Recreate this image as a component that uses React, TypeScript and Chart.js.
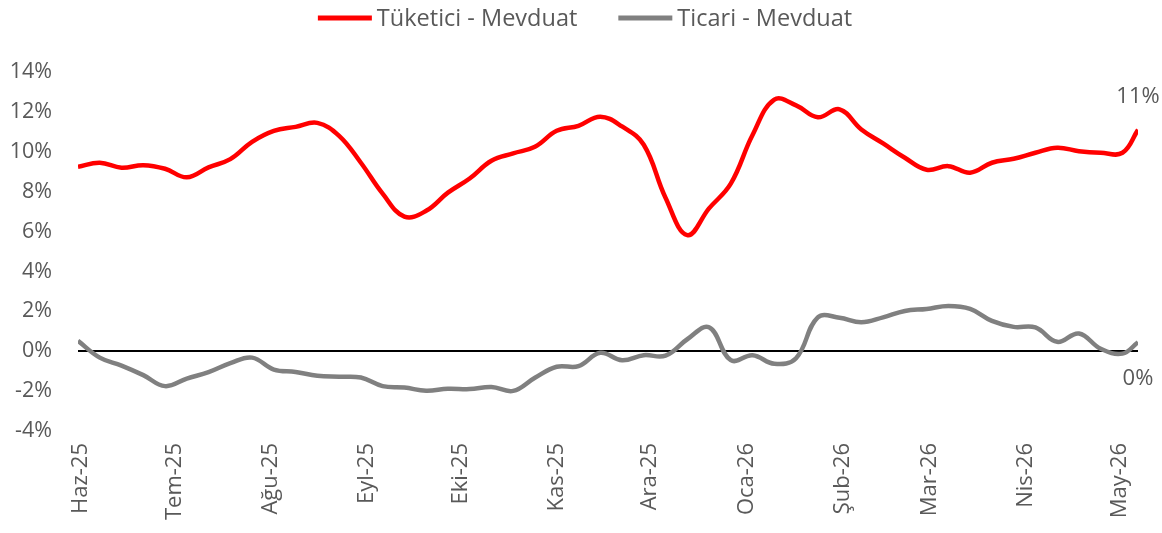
import React, { useEffect, useRef } from "react";
import { Chart, registerables } from "chart.js";

Chart.register(...registerables);

// Start date of the series (day 0 on the x axis)
const startDate = "2025-05-31";

// Month ticks on the x axis
const monthTickDates = [
  "2025-06-01", "2025-07-01", "2025-08-01", "2025-09-01", "2025-10-01", "2025-11-01",
  "2025-12-01", "2026-01-01", "2026-02-01", "2026-03-01", "2026-04-01", "2026-05-01",
];
const monthTickLabels = [
  "Haz-25", "Tem-25", "Ağu-25", "Eyl-25", "Eki-25", "Kas-25",
  "Ara-25", "Oca-26", "Şub-26", "Mar-26", "Nis-26", "May-26",
];

// Observation days (days since startDate)
const pointDays = [
  0, 7, 14, 21, 28, 35, 42, 49, 56, 63, 70, 77, 84, 91, 98, 105, 112, 119, 126, 133,
  140, 147, 154, 161, 168, 175, 182, 189, 196, 203, 210, 217, 224, 231, 238, 245, 252,
  259, 266, 273, 280, 287, 294, 301, 308, 315, 322, 329, 336, 341,
];

const seriesNames = ["Tüketici - Mevduat", "Ticari - Mevduat"];

const tuketici = [
  9.25, 9.45, 9.2, 9.33, 9.15, 8.72, 9.22, 9.63, 10.5, 11.05, 11.25, 11.45, 10.8, 9.45,
  7.9, 6.75, 7.04, 7.95, 8.66, 9.55, 9.92, 10.25, 11.05, 11.3, 11.76, 11.27, 10.35, 7.7,
  5.82, 7.16, 8.4, 10.84, 12.62, 12.33, 11.73, 12.13, 11.12, 10.42, 9.7, 9.1, 9.28, 8.95,
  9.45, 9.65, 9.95, 10.2, 10.03, 9.95, 9.95, 11.1,
];

const ticari = [
  0.52, -0.32, -0.72, -1.2, -1.75, -1.37, -1.05, -0.6, -0.32, -0.92, -1.04, -1.23, -1.28,
  -1.32, -1.75, -1.82, -1.98, -1.88, -1.9, -1.79, -1.99, -1.33, -0.78, -0.75, -0.08, -0.45,
  -0.2, -0.22, 0.6, 1.2, -0.45, -0.2, -0.63, -0.35, 1.7, 1.68, 1.45, 1.7, 2.02, 2.12, 2.27,
  2.12, 1.52, 1.22, 1.19, 0.47, 0.89, 0.12, -0.12, 0.45,
];

const yTicks = [-4, -2, 0, 2, 4, 6, 8, 10, 12, 14];

const RED = "#FF0000";
const GREY = "#808080";
const TEXT = "#595959";
const FONT = "'Open Sans', 'Noto Sans', sans-serif";

const dayOf = (iso: string) =>
  Math.round((Date.parse(iso + "T00:00:00Z") - Date.parse(startDate + "T00:00:00Z")) / 86400000);
const tickDays = monthTickDates.map(dayOf);

const legendPlugin = {
  id: "customLegend",
  afterDraw(chart: any) {
    const ctx = chart.ctx;
    ctx.save();
    ctx.font = `23.5px ${FONT}`;
    ctx.textBaseline = "middle";
    const lineW = 54;
    const gap = 5;
    const itemGap = 41;
    const colors = [RED, GREY];
    const widths = seriesNames.map((n) => ctx.measureText(n).width);
    const total = widths.reduce((a, w) => a + lineW + gap + w, 0) + itemGap;
    let x = (chart.width - total) / 2 + 4;
    const y = 18;
    seriesNames.forEach((n, i) => {
      ctx.strokeStyle = colors[i];
      ctx.lineWidth = 5;
      ctx.beginPath();
      ctx.moveTo(x, y);
      ctx.lineTo(x + lineW, y);
      ctx.stroke();
      ctx.fillStyle = TEXT;
      ctx.textAlign = "left";
      ctx.fillText(n, x + lineW + gap, y + 1);
      x += lineW + gap + widths[i] + itemGap;
    });
    ctx.restore();
  },
};

const endLabelPlugin = {
  id: "endLabels",
  afterDatasetsDraw(chart: any) {
    const ctx = chart.ctx;
    ctx.save();
    ctx.font = `22px ${FONT}`;
    ctx.fillStyle = TEXT;
    ctx.textAlign = "center";
    ctx.textBaseline = "middle";
    const offsets = [-33, 36];
    chart.data.datasets.forEach((ds: any, i: number) => {
      const meta = chart.getDatasetMeta(i);
      const last = meta.data[meta.data.length - 1];
      const v = ds.data[ds.data.length - 1].y;
      ctx.fillText(`${Math.round(v)}%`, last.x, last.y + offsets[i]);
    });
    ctx.restore();
  },
};

export default function App() {
  const ref = useRef<HTMLCanvasElement | null>(null);

  useEffect(() => {
    if (!ref.current) return;
    const chart = new Chart(ref.current, {
      type: "line",
      data: {
        datasets: [
          {
            label: seriesNames[0],
            data: pointDays.map((d, i) => ({ x: d, y: tuketici[i] })),
            borderColor: RED,
            backgroundColor: RED,
            borderWidth: 4.5,
            pointRadius: 0,
            tension: 0.4,
          },
          {
            label: seriesNames[1],
            data: pointDays.map((d, i) => ({ x: d, y: ticari[i] })),
            borderColor: GREY,
            backgroundColor: GREY,
            borderWidth: 4.5,
            pointRadius: 0,
            tension: 0.4,
          },
        ],
      },
      options: {
        animation: false,
        responsive: false,
        maintainAspectRatio: false,
        layout: { padding: { top: 72, right: 24, left: 0, bottom: 0 } },
        plugins: {
          legend: { display: false },
          tooltip: { enabled: false },
        },
        scales: {
          x: {
            type: "linear",
            min: 0,
            max: pointDays[pointDays.length - 1],
            grid: { display: false, drawTicks: false },
            border: { display: false },
            afterBuildTicks: (scale: any) => {
              scale.ticks = tickDays.map((v) => ({ value: v }));
            },
            afterFit: (scale: any) => {
              scale.height = 102;
            },
            ticks: {
              autoSkip: false,
              minRotation: 90,
              maxRotation: 90,
              padding: 12,
              color: TEXT,
              font: { family: FONT, size: 22 },
              callback: (value: any) => {
                const idx = tickDays.indexOf(Number(value));
                return idx >= 0 ? monthTickLabels[idx] : "";
              },
            },
          },
          y: {
            min: yTicks[0],
            max: yTicks[yTicks.length - 1],
            afterBuildTicks: (scale: any) => {
              scale.ticks = yTicks.map((v) => ({ value: v }));
            },
            afterFit: (scale: any) => {
              scale.width = 78;
            },
            border: { display: false },
            grid: {
              drawTicks: false,
              lineWidth: 2,
              color: (c: any) => (c.tick && c.tick.value === 0 ? "#000000" : "rgba(0,0,0,0)"),
            },
            ticks: {
              padding: 26,
              color: TEXT,
              font: { family: FONT, size: 21.5 },
              callback: (v: any) => `${v}%`,
            },
          },
        },
      },
      plugins: [legendPlugin, endLabelPlugin],
    });
    return () => chart.destroy();
  }, []);

  return (
    <div style={{ position: "fixed", left: 0, top: 0, width: 1162, height: 533, background: "#fff" }}>
      <canvas ref={ref} width={1162} height={533} style={{ display: "block" }} />
    </div>
  );
}
